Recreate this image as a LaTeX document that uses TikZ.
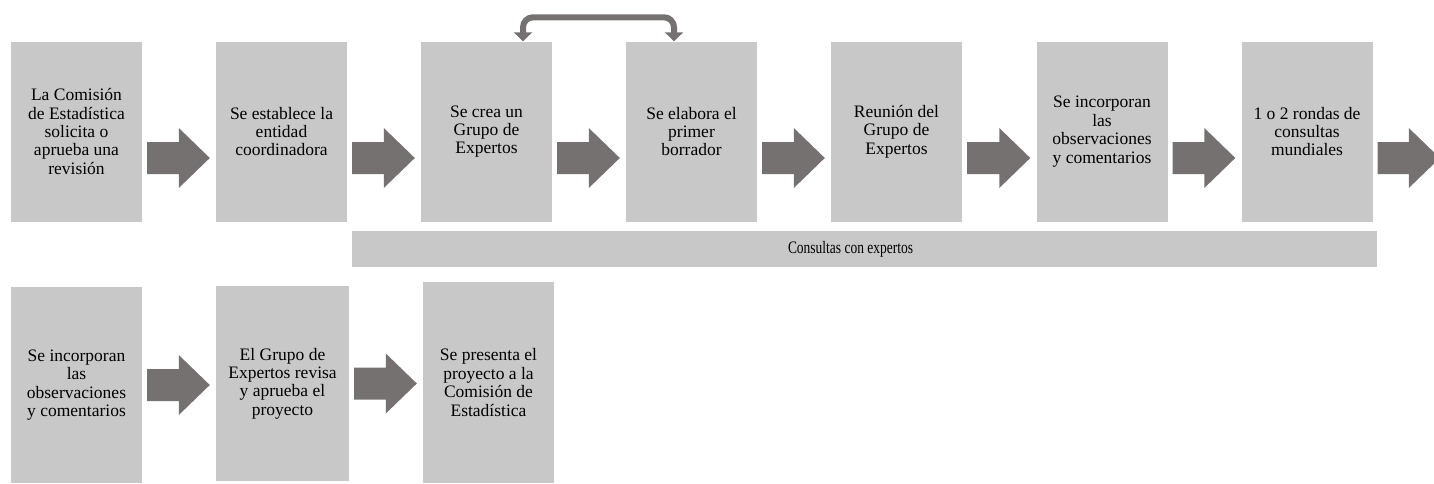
\documentclass[tikz,border=0pt]{standalone}
\usepackage{fontspec}
\setmainfont{Liberation Serif}
\usepackage{graphicx}
\usepackage{xcolor}
\usetikzlibrary{arrows.meta, positioning, calc}

\definecolor{cajagris}{HTML}{C8C8C8}
\definecolor{flechagris}{HTML}{767171}

\tikzset{
  paso/.style={fill=cajagris, minimum width=131pt, minimum height=180pt, inner sep=0pt, align=center, font=\fontsize{17.5}{18.4}\selectfont},
  punta/.tip={Triangle[width=18pt, length=9pt]}
}

\newcommand{\flecha}[3]{%
  \coordinate (fs) at ($(#1.east)+(5,#3)$);
  \coordinate (fe) at ($(fs -| #2.west)+(-6,0)$);
  \fill[flechagris] ($(fs)+(0,-16)$) -- ($(fe)+(-31,-16)$) -- ($(fe)+(-31,-30)$) -- (fe)
    -- ($(fe)+(-31,30)$) -- ($(fe)+(-31,16)$) -- ($(fs)+(0,16)$) -- cycle;}

\begin{document}
\begin{tikzpicture}[x=1pt, y=-1pt]
\useasboundingbox (0,0) rectangle (1434,483);

\node[paso] (p1) at (76.5,131.5) {La Comisión\\de Estadística\\solicita o\\aprueba una\\revisión};
\node[paso] (p2) at (281.5,131.5) {Se establece la\\entidad\\coordinadora};
\node[paso] (p3) at (486.5,131.5) {Se crea un\\Grupo de\\Expertos};
\node[paso] (p4) at (691.5,131.5) {Se elabora el\\primer\\borrador};
\node[paso] (p5) at (896.5,131.5) {Reunión del\\Grupo de\\Expertos};
\node[paso] (p6) at (1102,131.5) {Se incorporan\\las\\observaciones\\y comentarios};
\node[paso] (p7) at (1307,131.5) {1 o 2 rondas de\\consultas\\mundiales};
\node[inner sep=0pt, minimum size=0pt] (fin) at (1446,131.5) {};

\node[paso, minimum height=196pt] (p8) at (76.5,385) {Se incorporan\\las\\observaciones\\y comentarios};
\node[paso, minimum width=133pt, minimum height=195pt] (p9) at (282.5,383.5) {El Grupo de\\Expertos revisa\\y aprueba el\\proyecto};
\node[paso, minimum height=201pt] (p10) at (488.5,382.5) {Se presenta el\\proyecto a la\\Comisión de\\Estadística};

\node[fill=cajagris, minimum width=1025pt, minimum height=36pt, inner sep=0pt, font=\fontsize{17.5}{18.4}\selectfont] (consultas) at (864.5,249) {\scalebox{0.77}[1]{Consultas con expertos}\hspace*{28pt}};

\flecha{p1}{p2}{26.5}
\flecha{p2}{p3}{26.5}
\flecha{p3}{p4}{26.5}
\flecha{p4}{p5}{26.5}
\flecha{p5}{p6}{26.5}
\flecha{p6}{p7}{26.5}
\flecha{p7}{fin}{26.5}
\flecha{p8}{p9}{0}
\flecha{p9}{p10}{0}

\draw[flechagris, line width=6pt, rounded corners=10pt, punta-punta] ($(p3.north)+(36.5,0)$) |- ($(p4.north)+(-17.5,-24)$) -- ($(p4.north)+(-17.5,0)$);
\end{tikzpicture}
\end{document}
